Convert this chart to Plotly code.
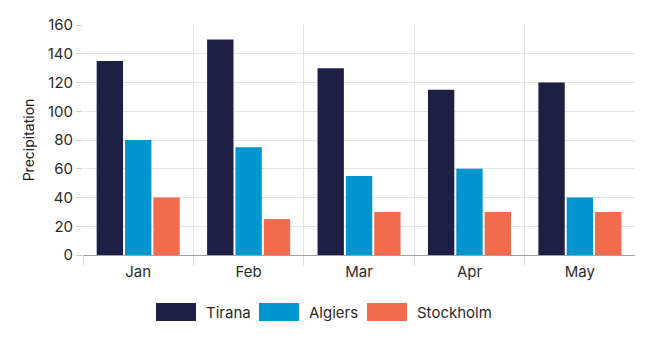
import plotly.graph_objects as go

months = ["Jan", "Feb", "Mar", "Apr", "May"]
tirana = [135, 150, 130, 115, 120]
algiers = [80, 75, 55, 60, 40]
stockholm = [40, 25, 30, 30, 30]
series_names = ["Tirana", "Algiers", "Stockholm"]
colors = ["#1e1f45", "#0095cf", "#f26b4c"]

W, H = 655, 355
ML, MR, MT, MB = 83, 20, 25, 100
PW, PH = W - ML - MR, H - MT - MB

def px_x(x):
    return (x - ML) / PW

def px_y(y):
    return (H - MB - y) / PH

fig = go.Figure()
for name, vals, c in zip(series_names, [tirana, algiers, stockholm], colors):
    fig.add_trace(go.Bar(x=months, y=vals, name=name, marker=dict(color=c, line=dict(width=0)),
                         showlegend=False))

FONT = "Inter, Roboto, sans-serif"
shapes = []
annotations = []
sw_x = [156, 259, 367]
tx_x = [204, 307, 415]
for i, name in enumerate(series_names):
    shapes.append(dict(type="rect", xref="paper", yref="paper",
                       x0=px_x(sw_x[i]), x1=px_x(sw_x[i] + 40),
                       y0=px_y(303), y1=px_y(321),
                       fillcolor=colors[i], line=dict(width=0)))
    annotations.append(dict(text=name, xref="paper", yref="paper",
                            x=px_x(tx_x[i]), y=px_y(312), xanchor="left", yanchor="middle",
                            showarrow=False, font=dict(family=FONT, size=15, color="#2a2a2a")))

fig.update_layout(
    width=W, height=H,
    margin=dict(l=ML, r=MR, t=MT, b=MB),
    paper_bgcolor="white", plot_bgcolor="white",
    barmode="group", bargap=0.23, bargroupgap=0.07,
    font=dict(family=FONT, size=14, color="#2a2a2a"),
    shapes=shapes, annotations=annotations,
    xaxis=dict(tickson="boundaries", showgrid=True, gridcolor="#e3e3e3", gridwidth=1,
               ticks="outside", ticklen=10, tickcolor="#dddddd",
               showline=True, linecolor="#a0a0a0", linewidth=1,
               ticklabelstandoff=3,
               range=[-0.5, 4.499], tickfont=dict(size=15, color="#2a2a2a")),
    yaxis=dict(range=[0, 160], dtick=20, showgrid=True, gridcolor="#e3e3e3", gridwidth=1,
               ticks="outside", ticklen=6, tickcolor="#cccccc",
               zeroline=False, showline=False,
               title=dict(text="Precipitation", font=dict(size=14, color="#1a1a1a"), standoff=9),
               tickfont=dict(size=15, color="#2a2a2a")),
)

fig.write_html("out.html", config={"displayModeBar": False},
               post_script="document.body.style.margin='0';")
